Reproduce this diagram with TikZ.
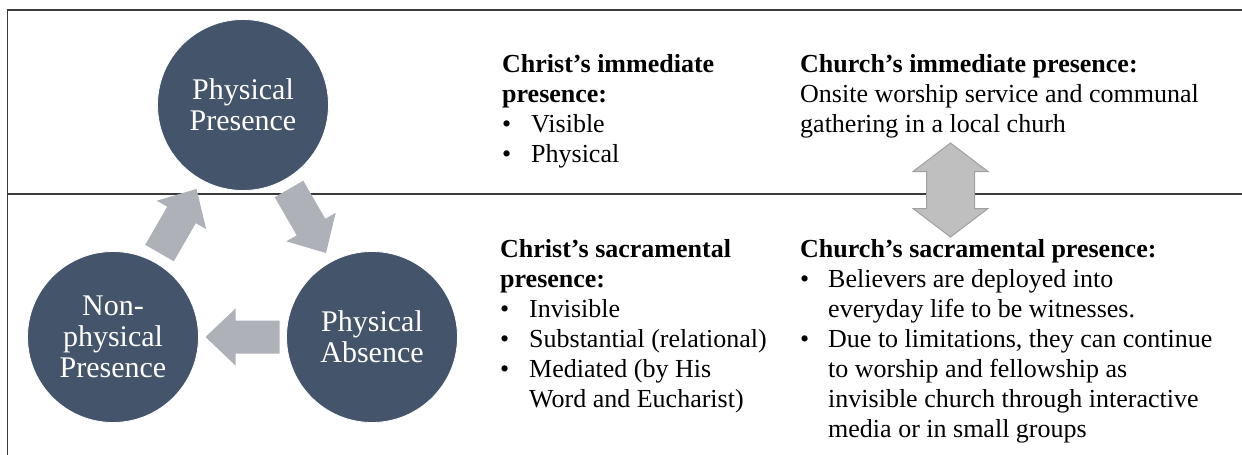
\documentclass[tikz,border=0pt]{standalone}
\usepackage{fontspec}
\setmainfont{Liberation Serif}
\usetikzlibrary{calc}
\definecolor{circblue}{HTML}{44546A}
\definecolor{arrowgray}{HTML}{AEB2B8}
\definecolor{dblfill}{HTML}{BFBFBF}
\definecolor{dbldraw}{HTML}{A0A0A0}
\definecolor{framegray}{HTML}{3A3A3A}
\tikzset{
  frame/.style={draw=framegray, line width=1.3pt},
  circ/.style={circle, fill=circblue, draw=white, line width=0.8pt, minimum size=171pt, inner sep=0pt,
    text=white, align=center, font=\fontsize{30}{31}\selectfont},
  txt/.style={anchor=base west, inner sep=0pt, font=\fontsize{26}{30}\selectfont},
  blockarrow/.pic={\fill[arrowgray] (-37,0) -- (-7,-28.5) -- (-7,-16.5) -- (37,-16.5) -- (37,16.5) -- (-7,16.5) -- (-7,28.5) -- cycle;},
  dblarrow/.pic={\filldraw[fill=dblfill, draw=dbldraw, line width=1pt] (0,-47) -- (37.5,-18.5) -- (24,-18.5) -- (24,18.5) -- (37.5,18.5) -- (0,47) -- (-37.5,18.5) -- (-24,18.5) -- (-24,-18.5) -- (-37.5,-18.5) -- cycle;}
}
\begin{document}
\begin{tikzpicture}[x=1pt,y=-1pt]
\useasboundingbox (0,0) rectangle (1242,455);
\fill[white] (0,0) rectangle (1242,455);
\coordinate (fl) at (7.5,455);
\coordinate (ftl) at (7.5,10);
\coordinate (ftr) at (1242,10);
\coordinate (fml) at (7.5,194);
\coordinate (fmr) at (1242,194);
\draw[frame] (fl) -- (ftl) -- (ftr);
\draw[frame] (fml) -- (fmr);

\node[circ] (pp) at (243,105) {Physical\\Presence};
\node[circ] (pa) at (372,337) {Physical\\Absence};
\node[circ] (np) at (113,337) {Non-\\physical\\Presence};

\pic[rotate=120] at ($(pp)!0.5!(pa)$) {blockarrow};
\pic at ($(pa)!0.5!(np)$) {blockarrow};
\pic[rotate=-120] at ($(np)!0.5!(pp)$) {blockarrow};

\node[txt] (ci) at (502,72) {\begin{tabular}[t]{@{}p{29pt}@{}l@{}}
\multicolumn{2}{@{}l@{}}{\bfseries Christ’s immediate}\\
\multicolumn{2}{@{}l@{}}{\bfseries presence:}\\
\textbullet & Visible\\
\textbullet & Physical
\end{tabular}};

\node[txt] (cs) at (500,257) {\begin{tabular}[t]{@{}p{29pt}@{}l@{}}
\multicolumn{2}{@{}l@{}}{\bfseries Christ’s sacramental}\\
\multicolumn{2}{@{}l@{}}{\bfseries presence:}\\
\textbullet & Invisible\\
\textbullet & Substantial (relational)\\
\textbullet & Mediated (by His\\
 & Word and Eucharist)
\end{tabular}};

\node[txt] (chi) at (800,72) {\begin{tabular}[t]{@{}l@{}}
{\bfseries Church’s immediate presence:}\\
Onsite worship service and communal\\
gathering in a local churh
\end{tabular}};

\node[txt] (chs) at (800,257) {\begin{tabular}[t]{@{}p{28pt}@{}l@{}}
\multicolumn{2}{@{}l@{}}{\bfseries Church’s sacramental presence:}\\
\textbullet & Believers are deployed into\\
 & everyday life to be witnesses.\\
\textbullet & Due to limitations, they can continue\\
 & to worship and fellowship as\\
 & invisible church through interactive\\
 & media or in small groups
\end{tabular}};

\pic at (950.5,190) {dblarrow};
\end{tikzpicture}
\end{document}
